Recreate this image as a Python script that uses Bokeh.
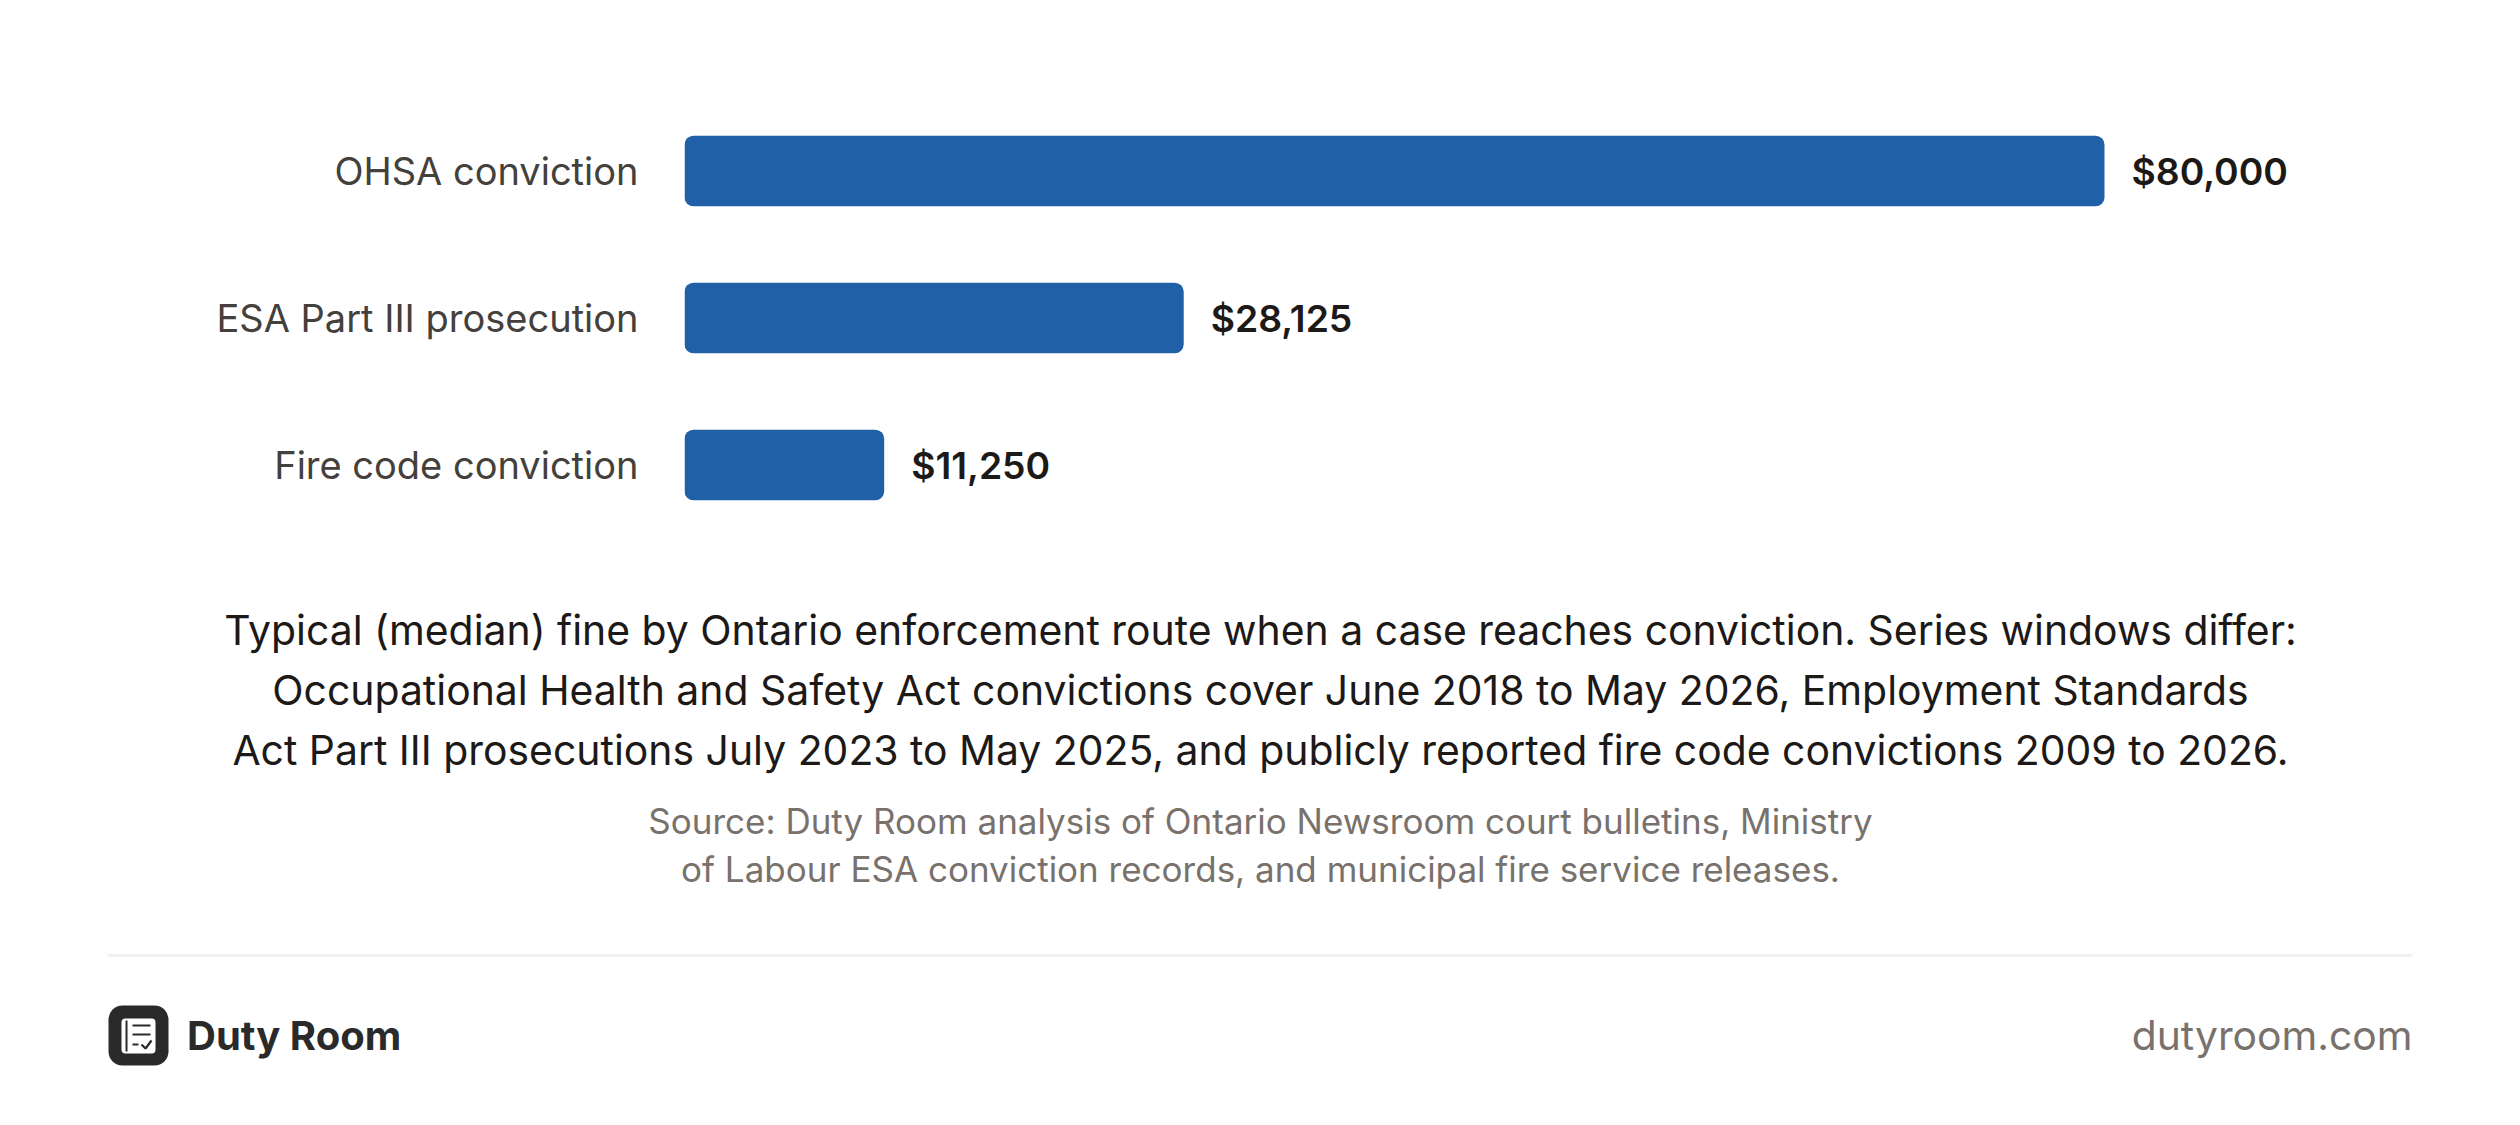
from bokeh.plotting import figure
from bokeh.layouts import column
from bokeh.models import Range1d, FactorRange, ColumnDataSource
from bokeh.core.properties import value
from bokeh.embed import file_html
from bokeh.resources import INLINE

categories = ["OHSA conviction", "ESA Part III prosecution", "Fire code conviction"]
fines = [80000, 28125, 11250]
fine_labels = ["$80,000", "$28,125", "$11,250"]
caption_lines = [
    "Typical (median) fine by Ontario enforcement route when a case reaches conviction. Series windows differ:",
    "Occupational Health and Safety Act convictions cover June 2018 to May 2026, Employment Standards",
    "Act Part III prosecutions July 2023 to May 2025, and publicly reported fire code convictions 2009 to 2026.",
]
source_lines = [
    "Source: Duty Room analysis of Ontario Newsroom court bulletins, Ministry",
    "of Labour ESA conviction records, and municipal fire service releases.",
]
brand = "Duty Room"
site = "dutyroom.com"

FONT = "Inter"
W, H1, H2 = 2520, 548, 577
LEFT, FRAME_H = 684, 441
BAR_PX = 1420

xmax = 80000 * (W - LEFT) / BAR_PX
p = figure(width=W, height=H1, output_backend="svg", toolbar_location=None,
           x_range=Range1d(0, xmax), y_range=FactorRange(factors=categories[::-1], range_padding=0),
           min_border_left=LEFT, min_border_right=0, min_border_top=97, min_border_bottom=10,
           outline_line_color=None, background_fill_color="white", frame_align=False)
p.xaxis.visible = False
p.grid.visible = False
ax = p.yaxis[0]
ax.axis_line_color = None
ax.major_tick_line_color = None
ax.minor_tick_line_color = None
ax.major_label_standoff = 40
ax.major_label_text_font = FONT
ax.major_label_text_font_size = "38px"
ax.major_label_text_color = "#44403c"

src = ColumnDataSource(dict(cat=categories, val=fines, lab=fine_labels))
p.hbar(y="cat", right="val", left=0, height=0.48, source=src, fill_color="#2060a6", line_color=None, border_radius=9)
p.text(x="val", y="cat", text="lab", source=src, x_offset=27, text_baseline="middle", text_align="left",
       text_font=value("Inter SemiBold"), text_font_size="37.3px", text_color="#1c1917")

f = figure(width=W, height=H2, output_backend="svg", toolbar_location=None,
           x_range=Range1d(0, W), y_range=Range1d(548 + H2, 548),
           min_border=0, outline_line_color=None, background_fill_color="white", frame_align=False)
f.axis.visible = False
f.grid.visible = False

f.text(x=[1260] * 3, y=[629.5, 689.5, 749.5], text=caption_lines, text_align="center", text_baseline="middle",
       text_font=value(FONT), text_font_size="40.9px", text_color="#1c1917")
f.text(x=[1260] * 2, y=[820, 868], text=source_lines, text_align="center", text_baseline="middle",
       text_font=value(FONT), text_font_size="35px", text_color="#78716c")
# divider
f.quad(left=[107], right=[2412], top=[953.5], bottom=[956.5], fill_color="#f3f2f0", line_color=None)
# logo
f.quad(left=[108], right=[168], top=[1005], bottom=[1065], fill_color="#2b2a2a", line_color=None, border_radius=14)
f.quad(left=[121], right=[155], top=[1018], bottom=[1053], fill_color="white", line_color=None, border_radius=4)
f.segment(x0=[126, 132, 132, 132], y0=[1020, 1025, 1034, 1044], x1=[126, 150, 150, 138], y1=[1051, 1025, 1034, 1044],
          line_color="#2b2a2a", line_width=2)
f.line(x=[141, 145, 151], y=[1044, 1048, 1040], line_color="#2b2a2a", line_width=2.2)
f.text(x=[186.5], y=[1034.5], text=[brand], text_align="left", text_baseline="middle", text_font=value(FONT),
       text_font_size="40px", text_font_style="bold", text_color="#2b2a2a")
f.text(x=[2412], y=[1034.5], text=[site], text_align="right", text_baseline="middle", text_font=value(FONT),
       text_font_size="40.8px", text_color="#78716c")

open("out.html", "w").write(file_html(column(p, f, spacing=0), INLINE))
